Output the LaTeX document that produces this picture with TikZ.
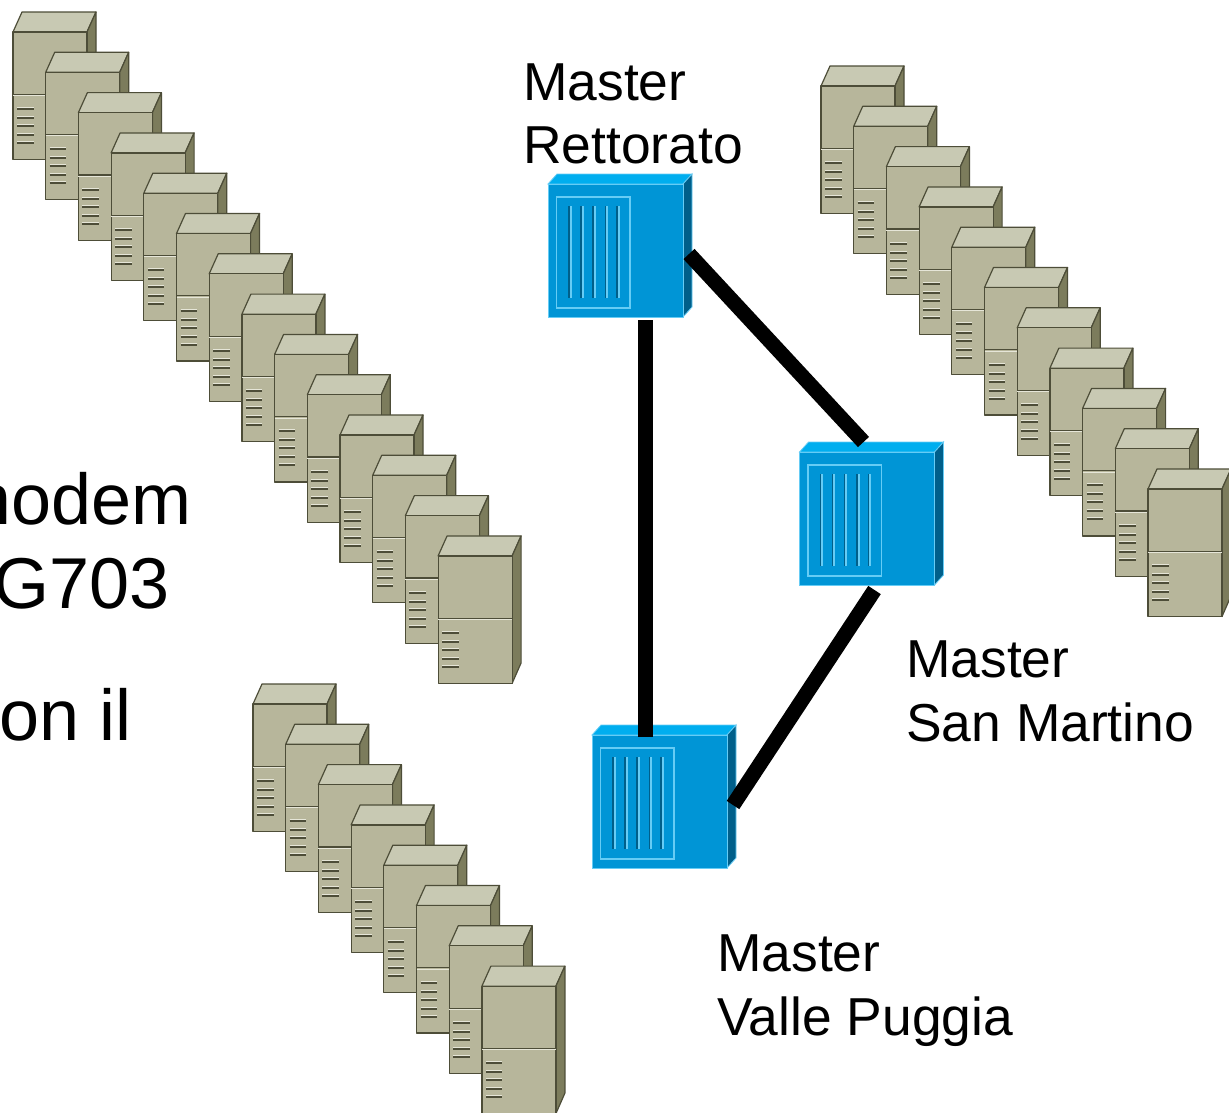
\documentclass[tikz,border=0pt]{standalone}
\usepackage{fontspec}
\setmainfont{Liberation Sans}
\definecolor{srvfront}{HTML}{B7B69B}
\definecolor{srvtop}{HTML}{C8C9B3}
\definecolor{srvside}{HTML}{7C7C5C}
\definecolor{srvedge}{HTML}{4D4D38}
\definecolor{srvlight}{HTML}{E6E6D8}
\definecolor{boxfront}{HTML}{0095D6}
\definecolor{boxtop}{HTML}{00AEEF}
\definecolor{boxside}{HTML}{005F8A}
\definecolor{boxlight}{HTML}{66CCF5}
\tikzset{
  x=1pt,y=-1pt,
  srvface/.style={draw=srvedge,line width=1.2pt,line join=round},
  link/.style={line width=15pt,black},
  label/.style={anchor=base west,inner sep=0pt,font=\fontsize{53.4}{63}\selectfont},
  bigtext/.style={anchor=base east,inner sep=0pt,font=\fontsize{72}{84}\selectfont},
  pics/server/.style={code={
    \path[srvface,fill=srvtop] (0,0) -- (9,-20) -- (83,-20) -- (74,0) -- cycle;
    \path[srvface,fill=srvside] (74,0) -- (83,-20) -- (83,107) -- (74,127.5) -- cycle;
    \path[srvface,fill=srvfront] (0,0) rectangle (74,127.5);
    \draw[srvedge,line width=1.2pt] (0,62.3) -- (74,62.3);
    \draw[srvlight,line width=1pt] (0,63.6) -- (74,63.6);
    \foreach \v in {77,86,94,103,111}{
      \draw[srvlight,line width=1pt] (4,\v-1.5) -- (20.5,\v-1.5);
      \draw[srvedge,line width=2pt] (4,\v) -- (20.5,\v);
    }
  }},
  pics/bluebox/.style={code={
    \fill[boxtop,draw=boxlight,line width=.8pt] (0,0) -- (9,-10) -- (144,-10) -- (135,0) -- cycle;
    \fill[boxside,draw=boxlight,line width=.8pt] (135,0) -- (144,-10) -- (144,123) -- (135,133) -- cycle;
    \fill[boxfront,draw=boxlight,line width=.8pt] (0,0) rectangle (135,133);
    \draw[boxlight,line width=1.4pt] (8.5,13) rectangle (82,124);
    \foreach \u in {21,33,45,57.5,69}{
      \draw[boxside,line width=1.6pt] (\u,22) -- (\u,114);
      \draw[boxlight,line width=1.8pt] (\u+1.8,22) -- (\u+1.8,114);
    }
    \coordinate (-south) at (97.5,136);
    \coordinate (-north) at (64,-10);
    \coordinate (-se) at (75,138);
    \coordinate (-topin) at (53.5,2);
    \coordinate (-ene) at (141,70);
  }}
}
\begin{document}
\begin{tikzpicture}
\useasboundingbox (0,0) rectangle (1229,1112);
\clip (0,0) rectangle (1229,1112);
\fill[white] (0,0) rectangle (1229,1112);
% left block of modems
\foreach \i in {0,...,13}{
  \pic at ({13+32.7*\i},{32+40.3*\i}) {server};
}
% right block
\foreach \i in {0,...,10}{
  \pic at ({821+32.7*\i},{86+40.3*\i}) {server};
}
% lower block
\foreach \i in {0,...,7}{
  \pic at ({253+32.7*\i},{704+40.3*\i}) {server};
}
% masters
\pic (rett) at (548,184) {bluebox};
\pic (mart) at (799.5,452) {bluebox};
\pic (valle) at (592,735) {bluebox};
% links
\draw[link] (rett-south) -- (valle-topin);
\draw[link] (rett-ene) -- (mart-north);
\draw[link] (mart-se) -- (valle-ene);
% labels
\node[label] (l1a) at (523,100) {Master};
\node[label] (l1b) at (523,163) {Rettorato};
\node[label] (l2a) at (906,677) {Master};
\node[label] (l2b) at (906,741) {San Martino};
\node[label] (l3a) at (717,971) {Master};
\node[label] (l3b) at (717,1035) {Valle Puggia};
\node[bigtext] (t1) at (192,524) {modem};
\node[bigtext] (t2) at (170,608) {G703};
\node[bigtext] (t3) at (132,740) {on il};
\end{tikzpicture}
\end{document}
